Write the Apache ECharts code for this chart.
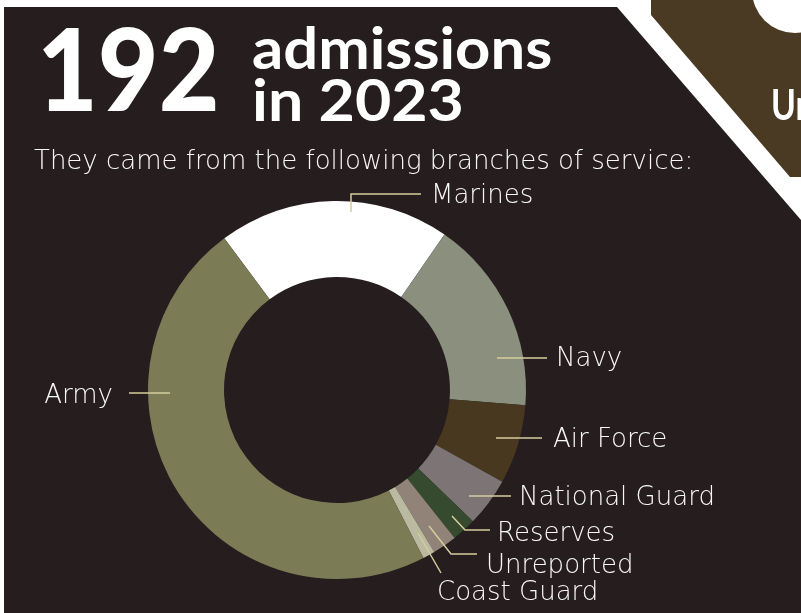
<!DOCTYPE html>
<html><head><meta charset="utf-8">
<script src="https://cdn.jsdelivr.net/npm/echarts/dist/echarts.min.js"></script>
<style>html,body{margin:0;padding:0;background:#ffffff;}#chart{width:801px;height:613px;}</style>
</head><body><div id="chart"></div>
<script>
// ---- data ----
const categories = ['Marines', 'Navy', 'Air Force', 'National Guard', 'Reserves', 'Unreported', 'Coast Guard', 'Army'];
const admissions = [38, 32, 13, 8, 4, 4, 2, 91];
const totalAdmissions = '192';
const headlineWords = ['admissions', 'in 2023'];
const subtitle = 'They came from the following branches of service:';
const cornerText = 'Un';

// ---- styles ----
const sliceColors = ['#ffffff', '#8a8f7e', '#47381f', '#7c7475', '#364a2f', '#918377', '#b9baa0', '#7b7c55'];
const bg = '#251d1e';
const brown = '#4a3a24';
const lineColor = '#d6cc9c';
const textColor = '#f8f8f6';
const labelFont = 'DejaVu Sans';

// label placement (positions only)
const labelSpots = [
  { x: 431, y: 196, align: 'left',  line: [[351, 212], [351, 194], [421, 194]] },
  { x: 556, y: 359, align: 'left',  line: [[497, 358], [547, 358]] },
  { x: 553, y: 440, align: 'left',  line: [[496, 438], [542, 438]] },
  { x: 519, y: 498, align: 'left',  line: [[469, 496], [511, 496]] },
  { x: 497, y: 534, align: 'left',  line: [[452, 516], [465, 530], [490, 530]] },
  { x: 486, y: 566, align: 'left',  line: [[429, 526], [451, 554], [477, 554]] },
  { x: 437, y: 593, align: 'left',  line: [[418, 533], [441, 573]] },
  { x: 113, y: 396, align: 'right', line: [[129, 393], [170, 393]] }
];

const chart = echarts.init(document.getElementById('chart'), null, { renderer: 'canvas' });

const guideLines = labelSpots.map(s => ({
  type: 'polyline', z: 100, shape: { points: s.line },
  style: { stroke: lineColor, lineWidth: 1.5, fill: null }
}));

const option = {
  backgroundColor: '#ffffff',
  animation: false,
  graphic: [
    { type: 'polygon', z: -10, shape: { points: [[4, 7], [617, 7], [801, 220], [801, 613], [4, 613]] }, style: { fill: bg } },
    { type: 'polygon', z: -10, shape: { points: [[651, 0], [651, 15], [790, 177], [801, 177], [801, 0]] }, style: { fill: brown } },
    { type: 'circle', z: -9, shape: { cx: 795, cy: -10, r: 43 }, style: { fill: '#ffffff' } },
    { type: 'text', z: -8, x: 771, y: 106, scaleX: 0.8, style: { text: cornerText, font: 'bold 42px Lato', fill: '#ffffff', verticalAlign: 'middle' } },
    { type: 'text', x: 37, y: 74, scaleX: 0.92, style: { text: totalAdmissions, font: '900 114px Lato', fill: '#ffffff', verticalAlign: 'middle' } },
    { type: 'text', x: 252, y: 51, scaleX: 1.08, style: { text: headlineWords[0], font: 'bold 57px Lato', fill: '#ffffff', verticalAlign: 'middle' } },
    { type: 'text', x: 252, y: 103, scaleX: 1.1, style: { text: headlineWords[1], font: 'bold 57px Lato', fill: '#ffffff', verticalAlign: 'middle' } },
    { type: 'text', x: 34, y: 162, style: { text: subtitle, font: '200 26px "' + labelFont + '"', fill: textColor, verticalAlign: 'middle' } }
  ].concat(guideLines),
  series: [{
    type: 'pie',
    center: [337, 390],
    radius: [113, 189],
    startAngle: 126.6,
    clockwise: true,
    avoidLabelOverlap: false,
    itemStyle: { borderWidth: 0 },
    label: {
      show: true, position: 'outside', formatter: '{b}',
      color: textColor, fontFamily: labelFont, fontWeight: 200, fontSize: 26
    },
    labelLine: { show: false },
    labelLayout: function (p) {
      const s = labelSpots[p.dataIndex];
      return { x: s.x, y: s.y, align: s.align, verticalAlign: 'middle' };
    },
    emphasis: { disabled: true },
    data: categories.map((c, i) => ({ name: c, value: admissions[i], itemStyle: { color: sliceColors[i] } }))
  }]
};
chart.setOption(option);
</script>
</body></html>
